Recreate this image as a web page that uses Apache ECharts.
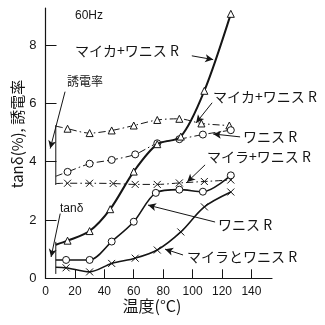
<!DOCTYPE html>
<html><head><meta charset="utf-8">
<script src="https://cdn.jsdelivr.net/npm/echarts@6/dist/echarts.min.js"></script>
<style>html,body{margin:0;padding:0;background:#fff}#c{width:325px;height:325px}</style>
</head><body><div id="c"></div>
<script>
// tick labels
const xTicks = [0, 20, 40, 60, 80, 100, 120, 140];
const yTicks = [0, 2, 4, 6, 8];

// Dielectric constant (dash-dot curves)
const epsMicaT = [15, 30, 45, 60, 76, 91, 106, 125];
const epsMicaV = [5.13, 4.98, 5.07, 5.24, 5.43, 5.47, 5.31, 5.24];
const epsVarnT = [15, 30, 45, 61, 76, 91, 107, 126];
const epsVarnV = [3.65, 3.93, 4.06, 4.25, 4.63, 4.77, 4.93, 5.08];
const epsMylarT = [15, 30, 46, 61, 76, 91, 108, 126];
const epsMylarV = [3.26, 3.26, 3.25, 3.22, 3.22, 3.27, 3.32, 3.37];

// tan delta (%) (solid curves)
const tanMicaT = [15, 30, 44, 60, 76, 92, 108, 126];
const tanMicaV = [1.29, 1.62, 2.37, 3.66, 4.6, 4.86, 6.43, 9.07];
const tanVarnT = [14, 30, 45, 60, 75, 91, 107, 126];
const tanVarnV = [0.63, 0.63, 1.26, 1.94, 2.93, 3.04, 2.97, 3.53];
const tanMylarT = [14, 30, 45, 61, 76, 92, 108, 126];
const tanMylarV = [0.36, 0.22, 0.51, 0.69, 0.97, 1.59, 2.45, 2.96];

// starting points of the curves at the bracket
const startT = 7;
const epsStartV = [5.22, 3.5, 3.25];
const tanStartV = [1.15, 0.63, 0.38];

const INK = '#151515';
const CJK = '"Noto Sans CJK JP", sans-serif';
const crossPath = 'path://M0,0L10,10M10,0L0,10';

function pts(T, V, s) {
  return [{ value: [startT, s], symbol: 'none' }].concat(T.map((t, i) => [t, V[i]]));
}
const dashDot = [7, 3, 1.5, 3];
function mk(name, T, V, s, sym, dashed, w) {
  return {
    name, type: 'line', data: pts(T, V, s), smooth: 0.3,
    symbol: sym, symbolSize: 7,
    itemStyle: { color: sym === crossPath ? 'rgba(0,0,0,0)' : '#fff', borderColor: INK, borderWidth: 1 },
    lineStyle: { color: INK, width: w, type: dashed ? dashDot : 'solid' },
    z: dashed ? 3 : 4
  };
}

const chart = echarts.init(document.getElementById('c'), null, { renderer: 'canvas' });
chart.setOption({
  animation: false,
  backgroundColor: '#fff',
  grid: { left: 45.5, right: 53, top: 8, bottom: 46.7 },
  xAxis: {
    type: 'value', min: 0, max: 154, interval: 20,
    axisLine: { lineStyle: { color: INK, width: 1.2 } },
    axisTick: { inside: true, length: 9, lineStyle: { color: INK }, customValues: xTicks.slice(1) },
    axisLabel: { color: INK, fontSize: 12, fontFamily: 'Liberation Sans', margin: 7, customValues: xTicks },
    splitLine: { show: false }
  },
  yAxis: {
    type: 'value', min: 0, max: 9.27, interval: 2,
    axisLine: { show: true, lineStyle: { color: INK, width: 1.2 } },
    axisTick: { show: true, inside: true, length: 11, lineStyle: { color: INK }, customValues: yTicks.slice(1) },
    axisLabel: { color: INK, fontSize: 13, fontFamily: 'Liberation Sans', margin: 9, customValues: yTicks },
    splitLine: { show: false }
  },
  graphic: [
    { type: 'text', x: 17, y: 134, rotation: Math.PI / 2, style: { text: 'tanδ(%), 誘電率', font: '15px ' + CJK, fill: INK, align: 'center', verticalAlign: 'middle' } },
    { type: 'text', x: 152, y: 306, style: { text: '温度(°C)', font: '16px ' + CJK, fill: INK, align: 'center', verticalAlign: 'middle' } },
    { type: 'text', x: 75, y: 16, style: { text: '60Hz', font: '12px "Liberation Sans"', fill: INK, verticalAlign: 'middle' } },
    { type: 'text', x: 75, y: 51, style: { text: 'マイカ+ワニス R', font: '14px ' + CJK, fill: INK, verticalAlign: 'middle' } },
    { type: 'text', x: 213, y: 97, style: { text: 'マイカ+ワニス R', font: '14px ' + CJK, fill: INK, verticalAlign: 'middle' } },
    { type: 'text', x: 243, y: 137, style: { text: 'ワニス R', font: '14px ' + CJK, fill: INK, verticalAlign: 'middle' } },
    { type: 'text', x: 207, y: 157, style: { text: 'マイラ+ワニス R', font: '14px ' + CJK, fill: INK, verticalAlign: 'middle' } },
    { type: 'text', x: 218, y: 225, style: { text: 'ワニス R', font: '14px ' + CJK, fill: INK, verticalAlign: 'middle' } },
    { type: 'text', x: 187, y: 257, style: { text: 'マイラとワニス R', font: '14px ' + CJK, fill: INK, verticalAlign: 'middle' } },
    { type: 'text', x: 67, y: 81, style: { text: '誘電率', font: '12px ' + CJK, fill: INK, verticalAlign: 'middle' } },
    { type: 'text', x: 60, y: 209, style: { text: 'tanδ', font: '12px "Liberation Sans"', fill: INK, verticalAlign: 'middle' } }
  ],
  series: [
    mk('誘電率 マイカ+ワニスR', epsMicaT, epsMicaV, epsStartV[0], 'triangle', true, 1),
    mk('誘電率 ワニスR', epsVarnT, epsVarnV, epsStartV[1], 'circle', true, 1),
    mk('誘電率 マイラ+ワニスR', epsMylarT, epsMylarV, epsStartV[2], crossPath, true, 1),
    mk('tanδ マイカ+ワニスR', tanMicaT, tanMicaV, tanStartV[0], 'triangle', false, 2),
    mk('tanδ ワニスR', tanVarnT, tanVarnV, tanStartV[1], 'circle', false, 1.6),
    mk('tanδ マイラとワニスR', tanMylarT, tanMylarV, tanStartV[2], crossPath, false, 1.6),
    {
      name: 'brackets', type: 'line', symbol: 'none', silent: true,
      data: [[startT, 5.25], [startT, 3.2], null, [startT, 1.25], [startT, 0.15]],
      connectNulls: false,
      lineStyle: { color: INK, width: 1 }
    },
    {
      name: 'arrows', type: 'line', data: [], silent: true,
      markLine: {
        silent: true, symbol: ['none', 'arrow'], symbolSize: [6, 8],
        label: { show: false },
        lineStyle: { color: INK, width: 1, type: 'solid' },
        data: [
          [{ coord: [99.5, 7.63] }, { coord: [114, 7.5] }],
          [{ coord: [113.3, 6.02] }, { coord: [102.4, 5.33] }],
          [{ coord: [132.3, 4.85] }, { coord: [114, 4.95] }],
          [{ coord: [108.5, 3.89] }, { coord: [96.3, 3.3] }],
          [{ coord: [115.3, 1.93] }, { coord: [69.7, 2.51] }],
          [{ coord: [93.5, 0.8] }, { coord: [81.3, 1.0] }],
          [{ coord: [13.3, 6.4], lineStyle: { curveness: 0.25 } }, { coord: [3.2, 4.45] }],
          [{ coord: [10, 2.22], lineStyle: { curveness: 0.25 } }, { coord: [3.8, 0.73] }]
        ]
      }
    }
  ]
});
</script></body></html>
